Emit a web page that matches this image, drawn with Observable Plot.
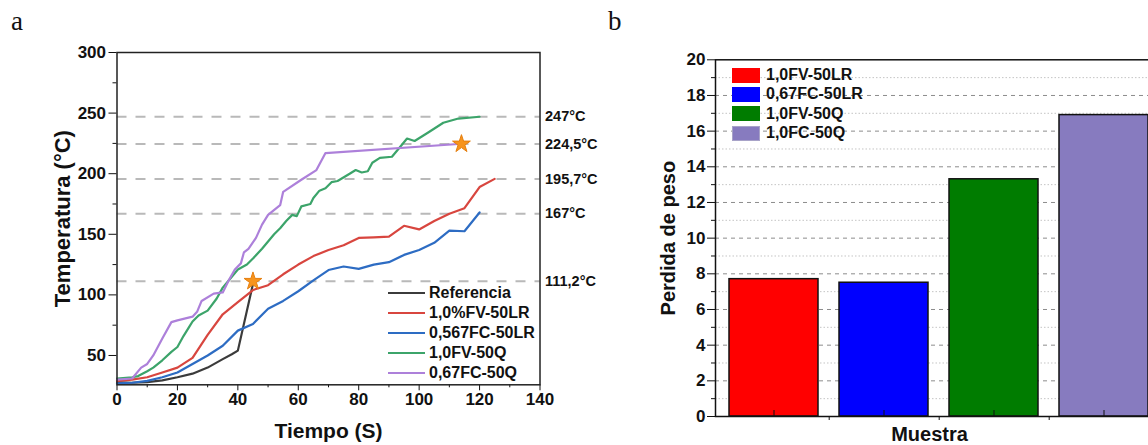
<!DOCTYPE html>
<html><head><meta charset="utf-8">
<script src="https://cdn.jsdelivr.net/npm/d3@7"></script>
<script src="https://cdn.jsdelivr.net/npm/@observablehq/plot@0.6"></script>
<style>
html,body{margin:0;padding:0;background:#fff;overflow:hidden;}
#wrap{position:relative;width:1148px;height:445px;overflow:hidden;font-family:"Liberation Sans",Arial,sans-serif;font-weight:bold;color:#111;}
.panel{position:absolute;top:0;}
.panel svg{max-width:none !important;}
.tag{position:absolute;font-family:"Liberation Serif","Times New Roman",serif;font-weight:normal;font-size:27px;line-height:1;}
.leg{position:absolute;font-size:16px;white-space:nowrap;}
.row{position:absolute;left:0;display:flex;align-items:center;height:20px;}
</style></head><body>
<div id="wrap">
  <div class="tag" style="left:11px;top:8px;">a</div>
  <div class="tag" style="left:608px;top:8px;">b</div>
  <div id="pa" class="panel" style="left:0;width:600px;height:445px;"></div>
  <div id="pb" class="panel" style="left:600px;width:548px;height:445px;overflow:hidden;"></div>
  <div id="lega" class="leg"></div>
  <div id="legb" class="leg"></div>
</div>
<script>
// ---------- Panel a data ----------
const seriesNames = ["Referencia", "1,0%FV-50LR", "0,567FC-50LR", "1,0FV-50Q", "0,67FC-50Q"];
const seriesColors = ["#3b3b3b", "#d8463f", "#2d6cc3", "#3ca46a", "#ad80da"];

const refTime = [0, 5, 10, 15, 20, 25, 30, 35, 38, 40, 45];
const refTemp = [28, 27.5, 28, 29.5, 32, 35, 40, 47, 51, 54, 109];

const fvLrTime = [0, 5, 10, 15, 20, 25, 30, 35, 40, 45, 50, 55, 60, 65, 70, 75, 80, 85, 90, 95, 100, 105, 110, 115, 120, 125];
const fvLrTemp = [29, 30, 32, 36, 40, 48, 67, 84, 94, 104, 108, 117, 125, 132, 137, 141, 147, 147.5, 148, 157, 154, 161, 167, 171.5, 189, 195.7];

const fcLrTime = [0, 5, 10, 15, 20, 25, 30, 35, 40, 45, 50, 55, 60, 65, 70, 75, 80, 85, 90, 95, 100, 105, 110, 115, 120];
const fcLrTemp = [27, 27.5, 29, 32, 36, 43, 50, 58, 70.5, 76, 88.5, 95, 103, 112, 120.5, 123.4, 121.5, 125, 127, 133, 137, 143, 153, 152.5, 168];

const fvQTime = [0, 5, 7, 10, 12, 15, 18, 20, 22, 24, 25, 27, 30, 33, 35, 38, 40, 43, 45, 48, 50, 52, 54, 56, 58, 59.5, 61, 64, 65, 67, 69, 71, 73, 77, 79, 81, 83, 84.5, 87, 91, 93, 96, 98.5, 103, 108, 113, 120];
const fvQTemp = [31, 32, 33, 37, 40, 46, 53, 57, 66, 74, 78, 83, 87, 97, 106, 115, 121, 125, 130, 138, 144, 150, 155, 161, 166, 165, 173, 175, 180, 186, 188, 193, 194, 200, 203, 201, 202, 209, 213, 214, 220, 229, 227, 234, 242, 245.5, 247];

const fcQTime = [0, 5, 8, 10, 12, 15, 18, 20, 25, 26.5, 28, 32, 35, 37, 39, 41, 42, 43.5, 46, 48, 50, 54, 55, 61, 66, 69, 113];
const fcQTemp = [30, 31, 40, 43, 50, 64, 77.5, 79, 82, 86, 95, 101, 102, 112, 121, 126, 135, 138, 147, 158, 166, 174, 185, 195, 203, 217, 224.5];

const levelValues = [247, 224.5, 195.7, 167, 111.2];
const levelLabels = ["247°C", "224,5°C", "195,7°C", "167°C", "111,2°C"];

const starTime = [45, 114];
const starTemp = [111.2, 224.5];

// ---------- Panel b data ----------
const sampleNames = ["1,0FV-50LR", "0,67FC-50LR", "1,0FV-50Q", "1,0FC-50Q"];
const weightLoss = [7.7, 7.5, 13.3, 16.9];
const barColors = ["#ff0000", "#0000ff", "#007c00", "#877bbf"];

// ---------- build tables ----------
const seriesTimes = [refTime, fvLrTime, fcLrTime, fvQTime, fcQTime];
const seriesTemps = [refTemp, fvLrTemp, fcLrTemp, fvQTemp, fcQTemp];
const lineData = seriesNames.flatMap((name, k) => seriesTimes[k].map((t, i) => ({series: name, t, temp: seriesTemps[k][i]})));
const levelData = levelValues.map((v, i) => ({v, label: levelLabels[i]}));
const starData = starTime.map((t, i) => ({t, temp: starTemp[i]}));
const barData = sampleNames.map((s, i) => ({sample: s, loss: weightLoss[i]}));

const font = '"Liberation Sans", Arial, sans-serif';

const chartA = Plot.plot({
  width: 600, height: 445,
  marginLeft: 116.5, marginRight: 60.5, marginTop: 52, marginBottom: 60.7,
  x: {domain: [0, 140]},
  y: {domain: [25.8, 300]},
  color: {domain: seriesNames, range: seriesColors},
  style: {fontFamily: font, fontWeight: "bold", fontSize: "16px", color: "#111", background: "transparent", overflow: "visible", maxWidth: "none"},
  marks: [
    Plot.ruleY(levelData, {y: "v", stroke: "#b9b9b9", strokeWidth: 2, strokeDasharray: "10,9"}),
    Plot.line(lineData, {x: "t", y: "temp", z: "series", stroke: "series", strokeWidth: 2.2, curve: "linear"}),
    Plot.dot(starData, {x: "t", y: "temp", symbol: "star", r: 5.6, fill: "#f7941d", stroke: "#e57f10", strokeWidth: 1}),
    Plot.text(levelData, {y: "v", text: "label", frameAnchor: "right", dx: 5, textAnchor: "start", fontSize: 14.5, fill: "#111"}),
    Plot.axisX({ticks: d3.range(0, 141, 20), tickSize: 6, tickPadding: 2, fontSize: 17, label: null, tickFormat: d => d}),
    Plot.axisX({ticks: d3.range(10, 140, 20), tickSize: 3, text: null, label: null}),
    Plot.axisY({ticks: d3.range(50, 301, 50), tickSize: 8, tickPadding: 3, fontSize: 17, label: null}),
    Plot.axisY({ticks: d3.range(75, 300, 50), tickSize: 4, text: null, label: null}),
    Plot.frame({stroke: "#222", strokeWidth: 1.5}),
    Plot.text(["Tiempo (S)"], {text: d => d, frameAnchor: "bottom", lineAnchor: "middle", dy: 46, fontSize: 21, fill: "#111"}),
    Plot.text(["Temperatura (°C)"], {text: d => d, frameAnchor: "left", textAnchor: "middle", rotate: -90, dx: -54, fontSize: 22, fill: "#111"})
  ]
});
document.getElementById("pa").appendChild(chartA);

const bandStep = 446 / (4 - 0.195 + 2 * 0.1175);
const chartB = Plot.plot({
  width: 580, height: 445,
  marginLeft: 115, marginRight: 19, marginTop: 59.3, marginBottom: 29,
  x: {type: "band", domain: sampleNames, paddingInner: 0.195, paddingOuter: 0.1175},
  y: {domain: [0, 20]},
  color: {domain: sampleNames, range: barColors},
  style: {fontFamily: font, fontWeight: "bold", fontSize: "16px", color: "#111", background: "transparent", maxWidth: "none"},
  marks: [
    Plot.gridY({ticks: d3.range(1, 20, 2), stroke: "#c4c4c4", strokeOpacity: 1, strokeDasharray: "1.5,2"}),
    Plot.gridY({ticks: d3.range(2, 20, 2), stroke: "#8c8c8c", strokeOpacity: 1, strokeDasharray: "4,4"}),
    Plot.barY(barData, {x: "sample", y: "loss", fill: "sample", stroke: "#111", strokeWidth: 1.5}),
    Plot.axisY({ticks: d3.range(0, 21, 2), tickSize: 8, tickPadding: 2, fontSize: 17, label: null}),
    Plot.axisY({ticks: d3.range(1, 20, 2), tickSize: 4, text: null, label: null}),
    Plot.axisX(sampleNames, {tickSize: -6, text: null, label: null}),
    Plot.axisX(sampleNames.slice(0, 3), {tickSize: 4, text: null, label: null, dx: bandStep / 2}),
    Plot.frame({stroke: "#111", strokeWidth: 1.5}),
    Plot.text(["Muestra"], {text: d => d, frameAnchor: "bottom", lineAnchor: "middle", dy: 18, dx: -9, fontSize: 20, fill: "#111"}),
    Plot.text(["Perdida de peso"], {text: d => d, frameAnchor: "left", textAnchor: "middle", rotate: -90, dx: -47, fontSize: 20, fill: "#111"})
  ]
});
document.getElementById("pb").appendChild(chartB);

// ---------- legends ----------
const lega = document.getElementById("lega");
lega.style.left = "388px"; lega.style.top = "0px";
const legARows = [292.7, 313, 333, 353, 373];
seriesNames.forEach((name, i) => {
  const r = document.createElement("div");
  r.className = "row";
  r.style.top = (legARows[i] - 10) + "px";
  r.innerHTML = `<span style="display:inline-block;width:37px;height:2px;background:${seriesColors[i]};margin-right:4px"></span><span>${name}</span>`;
  lega.appendChild(r);
});
const legb = document.getElementById("legb");
legb.style.left = "732px"; legb.style.top = "0px";
const legBRows = [75, 94.3, 113.7, 133];
sampleNames.forEach((name, i) => {
  const r = document.createElement("div");
  r.className = "row";
  r.style.top = (legBRows[i] - 10) + "px";
  r.innerHTML = `<span style="display:inline-block;width:26px;height:13px;background:${barColors[i]};border:1px solid ${i === 3 ? '#a8a3c8' : barColors[i]};margin-right:6px"></span><span>${name}</span>`;
  legb.appendChild(r);
});
</script>
</body></html>
